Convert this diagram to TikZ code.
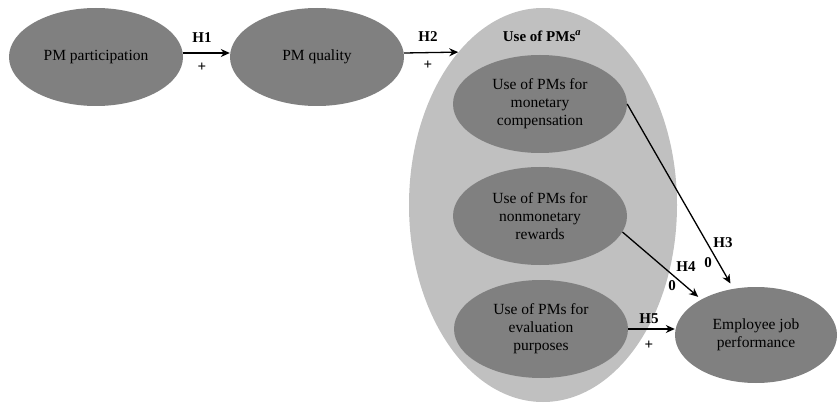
\documentclass[tikz,border=0pt]{standalone}
\usepackage{fontspec}
\setmainfont{Liberation Serif}
\usetikzlibrary{shapes.geometric,arrows.meta}
\definecolor{darkg}{RGB}{128,128,128}
\definecolor{lightg}{RGB}{192,192,192}
\begin{document}
\begin{tikzpicture}[x=1pt,y=-1pt,
  dk/.style={ellipse, fill=darkg, inner sep=0pt, minimum width=174pt, minimum height=98pt, align=center, font=\fontsize{15.5}{18}\selectfont},
  hyp/.style={font=\bfseries\fontsize{15}{18}\selectfont, inner sep=0pt},
  arr/.style={-{Stealth[length=9pt,width=8pt]}, line width=1.3pt}]
\useasboundingbox (0,0) rectangle (838,406);
\node[ellipse, fill=lightg, minimum width=268pt, minimum height=394pt, inner sep=0pt] (big) at (543,205) {};
\node[hyp] (usetitle) at (542,36) {Use of PMs\textsuperscript{\textit{a}}};
\node[dk] (part) at (96,57) {PM participation};
\node[dk] (qual) at (317,57) {PM quality};
\node[dk] (mon) at (540,104) {Use of PMs for\\monetary\\compensation};
\node[dk] (non) at (540,216) {Use of PMs for\\nonmonetary\\rewards};
\node[dk] (eval) at (541,329) {Use of PMs for\\evaluation\\purposes};
\node[dk, minimum width=162pt, minimum height=96pt] (emp) at (756,335) {Employee job\\performance};
\draw[arr] ([yshift=4pt]part.east) -- ([yshift=4pt]qual.west);
\draw[arr] ([yshift=4pt]qual.east) -- (big.119.2);
\draw[arr, shorten >=6pt] (mon.east) -- (emp.116);
\draw[arr, shorten >=4pt] (non.-11) -- (emp.147);
\draw[arr] (eval.east) -- (eval.east -| emp.west);
\node[hyp] (h1) at (202,38) {H1};
\node[hyp] (p1) at (202,67) {+};
\node[hyp] (h2) at (428,37) {H2};
\node[hyp] (p2) at (428,65) {+};
\node[hyp] (h3) at (723,243) {H3};
\node[hyp] (z3) at (708,263) {0};
\node[hyp] (h4) at (686,267) {H4};
\node[hyp] (z4) at (672,286) {0};
\node[hyp] (h5) at (649,319) {H5};
\node[hyp] (p5) at (649,345) {+};
\end{tikzpicture}
\end{document}
